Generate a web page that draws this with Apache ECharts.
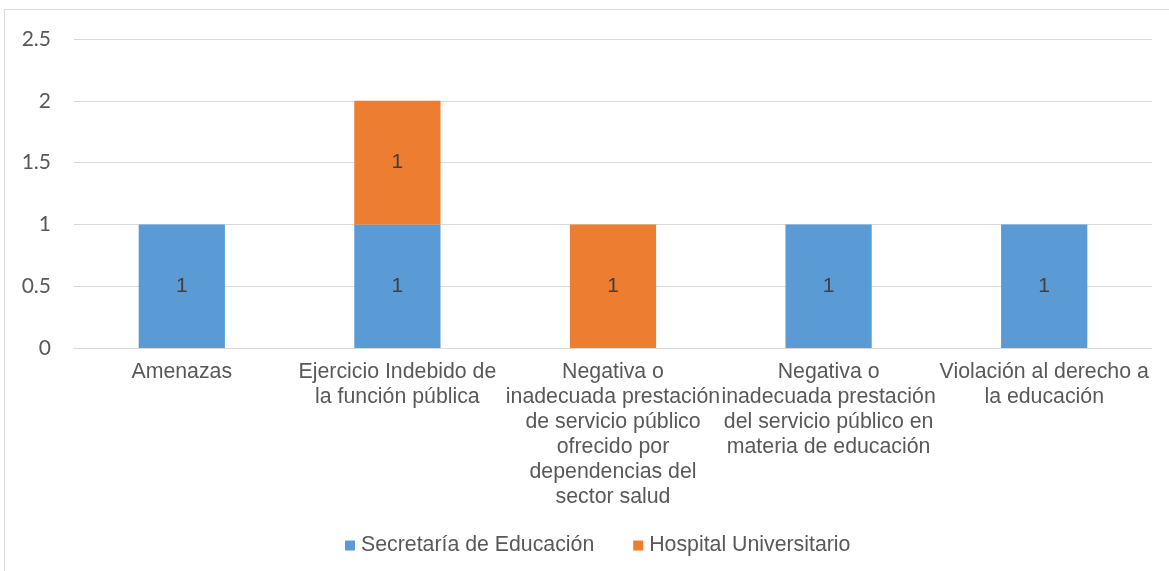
<!DOCTYPE html>
<html>
<head>
<meta charset="utf-8">
<style>
html,body{margin:0;padding:0;background:#fff;}
#c{width:1169px;height:571px;}
</style>
<script src="https://cdn.jsdelivr.net/npm/echarts@6/dist/echarts.min.js"></script>
</head>
<body>
<div id="c"></div>
<script>
const categories = [
  "Amenazas",
  "Ejercicio Indebido de\nla función pública",
  "Negativa o\ninadecuada prestación\nde servicio público\nofrecido por\ndependencias del\nsector salud",
  "Negativa o\ninadecuada prestación\ndel servicio público en\nmateria de educación",
  "Violación al derecho a\nla educación"
];
const seriesNames = ["Secretaría de Educación", "Hospital Universitario"];
const secretariaValues = [1, 1, 0, 1, 1];
const hospitalValues = [0, 1, 1, 0, 0];

const chart = echarts.init(document.getElementById('c'), null, {renderer: 'canvas'});
const textColor = '#595959';
const labelCfg = {
  show: true,
  position: 'inside',
  color: '#404040',
  fontFamily: 'Liberation Sans, Arial, sans-serif',
  fontSize: 21,
  formatter: p => (p.value ? String(p.value) : '')
};
chart.setOption({
  animation: false,
  backgroundColor: '#fff',
  graphic: [{
    type: 'rect',
    shape: {x: 4.5, y: 9.5, width: 1180, height: 600},
    style: {fill: 'none', stroke: '#d9d9d9', lineWidth: 1},
    silent: true
  }],
  grid: {left: 74, right: 17, top: 39, height: 309, containLabel: false},
  legend: {
    bottom: 15,
    left: 345,
    padding: 0,
    icon: 'rect',
    itemWidth: 10,
    itemHeight: 10,
    itemGap: 39,
    textStyle: {color: textColor, fontFamily: 'Liberation Sans, Arial, sans-serif', fontSize: 21.3, padding: [0, 0, 0, 1]},
    data: seriesNames
  },
  xAxis: {
    type: 'category',
    data: categories,
    axisTick: {show: false},
    axisLine: {show: true, lineStyle: {color: '#d9d9d9', width: 1}},
    axisLabel: {
      color: textColor,
      fontFamily: 'Liberation Sans, Arial, sans-serif',
      fontSize: 21.3,
      lineHeight: 25,
      margin: 12,
      interval: 0
    }
  },
  yAxis: {
    type: 'value',
    min: 0,
    max: 2.5,
    interval: 0.5,
    axisLine: {show: false},
    axisTick: {show: false},
    splitLine: {lineStyle: {color: '#d9d9d9', width: 1}},
    axisLabel: {
      color: textColor,
      fontFamily: 'Lato, Carlito, Calibri, sans-serif',
      fontSize: 21,
      margin: 23
    }
  },
  series: [
    {
      name: seriesNames[0],
      type: 'bar',
      stack: 'total',
      barWidth: '40%',
      itemStyle: {color: '#5b9bd5'},
      label: labelCfg,
      data: secretariaValues
    },
    {
      name: seriesNames[1],
      type: 'bar',
      stack: 'total',
      barWidth: '40%',
      itemStyle: {color: '#ed7d31'},
      label: labelCfg,
      data: hospitalValues
    }
  ]
});
</script>
</body>
</html>
